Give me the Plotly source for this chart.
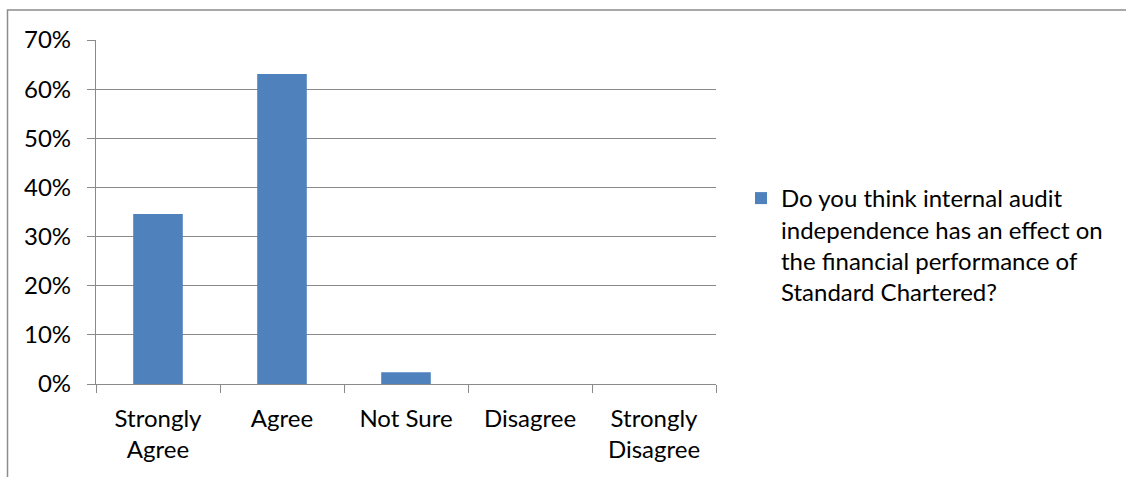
import plotly.graph_objects as go

categories = ["Strongly<br>Agree", "Agree", "Not Sure", "Disagree", "Strongly<br>Disagree"]
shares = [0.346, 0.631, 0.024, 0.0, 0.0]
series_name = ("Do you think internal audit<br>independence has an effect on<br>"
               "the financial performance of<br>Standard Chartered?")
y_ticks = [0, 0.1, 0.2, 0.3, 0.4, 0.5, 0.6, 0.7]

W, H = 1126, 477
L, R, T, B = 96, 410, 40, 93
pw, ph = W - L - R, H - T - B

FONT = "Lato"
FS = 24
GRID = "#8a8a8a"

fig = go.Figure()
fig.add_trace(go.Bar(
    x=categories, y=shares, name=series_name,
    marker=dict(color="#4f81bd", line=dict(width=0)),
    width=0.4, showlegend=True,
))


def px_x(p):
    return (p - L) / pw


def px_y(p):
    return (H - B - p) / ph


# outer chart frame (left and top edges visible)
fig.add_shape(type="rect", xref="paper", yref="paper",
              x0=px_x(7.5), x1=px_x(W + 20), y0=px_y(H + 20), y1=px_y(10),
              line=dict(color="#8c8c8c", width=1.5), fillcolor="rgba(0,0,0,0)",
              layer="below")

fig.update_layout(
    width=W, height=H,
    margin=dict(l=L, r=R, t=T, b=B, pad=0),
    paper_bgcolor="white", plot_bgcolor="white",
    font=dict(family=FONT, size=FS, color="#000000"),
    bargap=0.6,
    showlegend=True,
    legend=dict(
        x=px_x(741), y=px_y(176), xanchor="left", yanchor="top",
        valign="top", font=dict(family=FONT, size=FS, color="#000000"),
        bgcolor="rgba(0,0,0,0)", itemwidth=30,
    ),
    xaxis=dict(
        showline=True, linecolor=GRID, linewidth=1.2,
        ticks="outside", ticklen=8, tickcolor=GRID, tickwidth=1.2,
        tickson="boundaries", showgrid=False, ticklabelstandoff=13,
        tickfont=dict(family=FONT, size=FS, color="#000000"),
    ),
    yaxis=dict(
        range=[0, 0.7], tickvals=y_ticks, tickformat=".0%",
        showline=True, linecolor=GRID, linewidth=1.2,
        showgrid=True, gridcolor=GRID, gridwidth=1.2,
        ticks="outside", ticklen=8, tickcolor=GRID, tickwidth=1.2,
        ticklabelstandoff=11, zeroline=False,
        tickfont=dict(family=FONT, size=FS, color="#000000"),
    ),
)

fig.write_html("out.html")
